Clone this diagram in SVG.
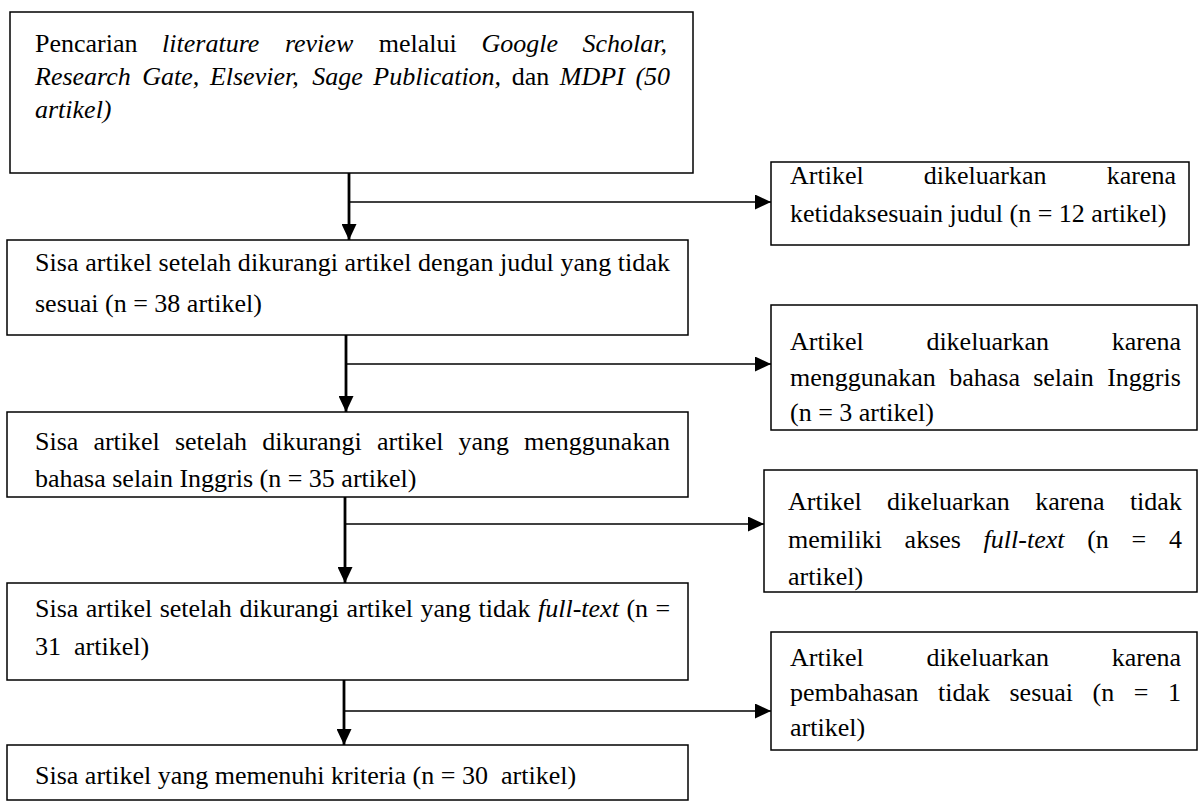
<svg xmlns="http://www.w3.org/2000/svg" width="1203" height="803" viewBox="0 0 1203 803">
<style>
  text { font-family: "Liberation Serif", "Times New Roman", serif; font-size: 26px; fill: #000; }
  .i { font-style: italic; }
  .box { fill: #fff; stroke: #000; stroke-width: 1.5; }
  .v { stroke: #000; stroke-width: 2.8; fill: none; }
  .h { stroke: #000; stroke-width: 1.6; fill: none; }
</style>
<defs>
  <marker id="arr" markerUnits="userSpaceOnUse" markerWidth="16" markerHeight="15" refX="16" refY="7.5" orient="auto" viewBox="0 0 16 15">
    <path d="M0,0 L16,7.5 L0,15 z" fill="#000"/>
  </marker>
</defs>
<rect x="0" y="0" width="1203" height="803" fill="#fff"/>

<g id="connectors">
  <line class="v" x1="349" y1="173" x2="349" y2="240" marker-end="url(#arr)"/>
  <line class="h" x1="349" y1="202" x2="771" y2="202" marker-end="url(#arr)"/>
  <line class="v" x1="346" y1="335" x2="346" y2="412" marker-end="url(#arr)"/>
  <line class="h" x1="346" y1="364" x2="771" y2="364" marker-end="url(#arr)"/>
  <line class="v" x1="345" y1="497" x2="345" y2="583" marker-end="url(#arr)"/>
  <line class="h" x1="345" y1="524" x2="764" y2="524" marker-end="url(#arr)"/>
  <line class="v" x1="344" y1="680" x2="344" y2="745" marker-end="url(#arr)"/>
  <line class="h" x1="344" y1="711" x2="771" y2="711" marker-end="url(#arr)"/>
</g>

<g id="box1">
  <rect class="box" x="10" y="12" width="683" height="161"/>
  <text y="52"><tspan x="35">Pencarian</tspan><tspan class="i" x="162.1">literature</tspan><tspan class="i" x="284.9">review</tspan><tspan x="378.8">melalui</tspan><tspan class="i" x="481.4">Google</tspan><tspan class="i" x="582.5">Scholar,</tspan></text>
  <text y="85"><tspan class="i" x="35">Research</tspan><tspan class="i" x="142.3">Gate,</tspan><tspan class="i" x="209.9">Elsevier,</tspan><tspan class="i" x="312.2">Sage</tspan><tspan class="i" x="373.3">Publication,</tspan><tspan x="511.7">dan</tspan><tspan class="i" x="559.8">MDPI</tspan><tspan class="i" x="635.4">(50</tspan></text>
  <text y="118" class="i" x="35">artikel)</text>
</g>

<g id="box2">
  <rect class="box" x="7" y="240" width="681" height="95"/>
  <text x="35" y="271" textLength="635" lengthAdjust="spacing">Sisa artikel setelah dikurangi artikel dengan judul yang tidak</text>
  <text x="35" y="312">sesuai (n = 38 artikel)</text>
</g>

<g id="box3">
  <rect class="box" x="7" y="412" width="681" height="85"/>
  <text y="450"><tspan x="35">Sisa</tspan><tspan x="93.4">artikel</tspan><tspan x="174.9">setelah</tspan><tspan x="262.2">dikurangi</tspan><tspan x="377">artikel</tspan><tspan x="458.5">yang</tspan><tspan x="524.1">menggunakan</tspan></text>
  <text x="35" y="487">bahasa selain Inggris (n = 35 artikel)</text>
</g>

<g id="box4">
  <rect class="box" x="7" y="583" width="681" height="97"/>
  <text y="617"><tspan x="35">Sisa</tspan><tspan x="85.8">artikel</tspan><tspan x="159.7">setelah</tspan><tspan x="239.4">dikurangi</tspan><tspan x="346.6">artikel</tspan><tspan x="420.5">yang</tspan><tspan x="478.5">tidak</tspan><tspan class="i" x="538">full-text</tspan><tspan x="626.4">(n</tspan><tspan x="655.6">=</tspan></text>
  <text y="655"><tspan x="35">31</tspan><tspan x="74">artikel)</tspan></text>
</g>

<g id="box5">
  <rect class="box" x="7" y="745" width="681" height="55"/>
  <text y="784"><tspan x="35">Sisa artikel yang memenuhi kriteria (n = 30</tspan><tspan x="501">artikel)</tspan></text>
</g>

<g id="excl1">
  <rect class="box" x="771" y="162" width="418" height="83"/>
  <text y="184"><tspan x="790">Artikel</tspan><tspan x="923.8">dikeluarkan</tspan><tspan x="1106.7">karena</tspan></text>
  <text x="790" y="222">ketidaksesuain judul (n = 12 artikel)</text>
</g>

<g id="excl2">
  <rect class="box" x="771" y="305" width="426" height="125"/>
  <text y="350"><tspan x="790">Artikel</tspan><tspan x="926.4">dikeluarkan</tspan><tspan x="1111.7">karena</tspan></text>
  <text y="386"><tspan x="790">menggunakan</tspan><tspan x="949.2">bahasa</tspan><tspan x="1033.2">selain</tspan><tspan x="1107.2">Inggris</tspan></text>
  <text x="790" y="421">(n = 3 artikel)</text>
</g>

<g id="excl3">
  <rect class="box" x="764" y="470" width="433" height="122"/>
  <text y="510"><tspan x="788">Artikel</tspan><tspan x="887.1">dikeluarkan</tspan><tspan x="1035.2">karena</tspan><tspan x="1129.9">tidak</tspan></text>
  <text y="548"><tspan x="788">memiliki</tspan><tspan x="904.6">akses</tspan><tspan class="i" x="983.6">full-text</tspan><tspan x="1087.2">(n</tspan><tspan x="1131.6">=</tspan><tspan x="1169">4</tspan></text>
  <text x="788" y="585">artikel)</text>
</g>

<g id="excl4">
  <rect class="box" x="771" y="632" width="426" height="118"/>
  <text y="666"><tspan x="790">Artikel</tspan><tspan x="926.4">dikeluarkan</tspan><tspan x="1111.7">karena</tspan></text>
  <text y="701"><tspan x="790">pembahasan</tspan><tspan x="938">tidak</tspan><tspan x="1009.5">sesuai</tspan><tspan x="1092.5">(n</tspan><tspan x="1133.7">=</tspan><tspan x="1167.9">1</tspan></text>
  <text x="790" y="736">artikel)</text>
</g>
</svg>
